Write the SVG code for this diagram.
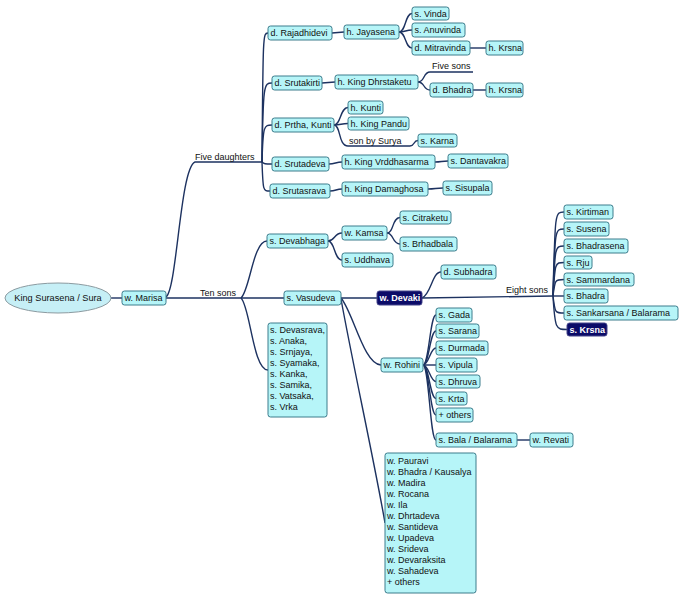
<svg xmlns="http://www.w3.org/2000/svg" width="684" height="600" viewBox="0 0 684 600">
<style>
.n rect{fill:#b6f5f8;stroke:#3c7c8c;stroke-width:1}
.n text,.lbl{font-family:"Liberation Sans",Arial,sans-serif;font-size:9px;fill:#111}
.d rect{fill:#0b0b68;stroke:#45458a;stroke-width:1}
.d text{font-family:"Liberation Sans",Arial,sans-serif;font-size:9px;font-weight:bold;fill:#fff}
.c path{fill:none;stroke:#1d3260;stroke-width:1.4}
.root ellipse{fill:#c6eff6;stroke:#8a9aa0;stroke-width:1}
.root text{font-family:"Liberation Sans",Arial,sans-serif;font-size:9.2px;fill:#111;text-anchor:middle}
</style>
<rect width="684" height="600" fill="#fff"/>
<g id="connectors" class="c">
<path d="M111,298 H122"/>
<path d="M166,297 C177,290 180,168 195,162 H262"/>
<path d="M166,298 H241"/>
<path d="M262,162 C263,33 263,33 268,33"/>
<path d="M262,162 C263,83 264,83 272,83"/>
<path d="M262,162 C263,125 264,125 272,125"/>
<path d="M262,162 C264,164 265,164 272,164"/>
<path d="M262,162 C263,191 263,191 270,191"/>
<path d="M332,33 L344,32"/>
<path d="M399,32 C406,32 405,13.5 412,13.5"/>
<path d="M399,32 C405,32 406,30 412,30"/>
<path d="M399,32 C406,32 405,48 412,48"/>
<path d="M470,48 H486"/>
<path d="M322,83 L335,82"/>
<path d="M418,82 C425,82 423,72 430,72 H473"/>
<path d="M418,82 C425,82 423,90 430,90"/>
<path d="M473,90 H486"/>
<path d="M334,125 C341,125 340,107.5 348,107.5"/>
<path d="M334,125 C341,125 341,123.5 348,123.5"/>
<path d="M334,125 C341,125 338,146 348,146 H410 C415,146 413,140.5 418,140.5"/>
<path d="M329,164 C335,164 336,162 342,162"/>
<path d="M435,162 C441,162 442,161 448,161"/>
<path d="M330,191 C336,191 336,189 342,189"/>
<path d="M428,189 C435,189 436,188 443,188"/>
<path d="M241,298 C250,290 253,241 267,241"/>
<path d="M241,298 H284"/>
<path d="M241,298 C250,306 253,370 268,370"/>
<path d="M328,241 C335,241 334,233 342,233"/>
<path d="M328,241 C335,241 334,260 342,260"/>
<path d="M387,233 C394,233 392,217.5 400,217.5"/>
<path d="M387,233 C394,233 392,244 400,244"/>
<path d="M341,298 H377"/>
<path d="M341,298 C353,312 364,365 381,365"/>
<path d="M341,299 C352,360 376,470 385,523"/>
<path d="M422,298 C431,295 432,272 441,272"/>
<path d="M422,298 L553,296"/>
<path d="M553,296 C555,212 555,212 564,212"/>
<path d="M553,296 C555,229 555,229 564,229"/>
<path d="M553,296 C555,246 555,246 564,246"/>
<path d="M553,296 C555,262.5 555,262.5 564,262.5"/>
<path d="M553,296 C555,279.5 555,279.5 564,279.5"/>
<path d="M553,296 C556,296 558,296 564,296"/>
<path d="M553,296 C555,313 555,313 564,313"/>
<path d="M553,296 C555,329.5 556,329.5 567,329.5"/>
<path d="M423,365 C429,365 430,315 436,315"/>
<path d="M423,365 C429,365 430,331 436,331"/>
<path d="M423,365 C429,365 430,348 436,348"/>
<path d="M423,365 H436"/>
<path d="M423,365 C429,365 430,381.5 436,381.5"/>
<path d="M423,365 C429,365 430,398.5 436,398.5"/>
<path d="M423,365 C429,365 430,415 436,415"/>
<path d="M423,365 C429,365 430,440 436,440"/>
<path d="M517,440 H530"/>
</g>
<g id="connector-labels">
<text class="lbl" x="195" y="159.5">Five daughters</text>
<text class="lbl" x="200" y="295.5">Ten sons</text>
<text class="lbl" x="432" y="69">Five sons</text>
<text class="lbl" x="349" y="144">son by Surya</text>
<text class="lbl" x="506" y="292.5">Eight sons</text>
</g>
<g id="root" class="root"><ellipse cx="58" cy="298" rx="53" ry="15"/><text x="58" y="301.3">King Surasena / Sura</text></g>
<g id="marisa" class="n"><rect x="122" y="291" width="44" height="14" rx="2.5"/><text x="124.5" y="301.3">w. Marisa</text></g>
<g id="rajadhidevi" class="n"><rect x="268" y="26" width="64" height="14" rx="2.5"/><text x="270.5" y="36.3">d. Rajadhidevi</text></g>
<g id="jayasena" class="n"><rect x="344" y="25" width="55" height="14" rx="2.5"/><text x="346.5" y="35.3">h. Jayasena</text></g>
<g id="vinda" class="n"><rect x="412" y="7" width="37" height="13" rx="2.5"/><text x="414.5" y="16.8">s. Vinda</text></g>
<g id="anuvinda" class="n"><rect x="412" y="23" width="53" height="14" rx="2.5"/><text x="414.5" y="33.3">s. Anuvinda</text></g>
<g id="mitravinda" class="n"><rect x="412" y="41" width="58" height="14" rx="2.5"/><text x="414.5" y="51.3">d. Mitravinda</text></g>
<g id="krsna1" class="n"><rect x="486" y="41" width="37" height="14" rx="2.5"/><text x="488.5" y="51.3">h. Krsna</text></g>
<g id="srutakirti" class="n"><rect x="272" y="76" width="50" height="14" rx="2.5"/><text x="274.5" y="86.3">d. Srutakirti</text></g>
<g id="dhrstaketu" class="n"><rect x="335" y="75" width="83" height="14" rx="2.5"/><text x="337.5" y="85.3">h. King Dhrstaketu</text></g>
<g id="bhadra-d" class="n"><rect x="430" y="83" width="43" height="14" rx="2.5"/><text x="432.5" y="93.3">d. Bhadra</text></g>
<g id="krsna2" class="n"><rect x="486" y="83" width="37" height="14" rx="2.5"/><text x="488.5" y="93.3">h. Krsna</text></g>
<g id="prtha" class="n"><rect x="272" y="118" width="62" height="14" rx="2.5"/><text x="274.5" y="128.3">d. Prtha, Kunti</text></g>
<g id="kunti" class="n"><rect x="348" y="101" width="35" height="13" rx="2.5"/><text x="350.5" y="110.8">h. Kunti</text></g>
<g id="pandu" class="n"><rect x="348" y="117" width="61" height="13" rx="2.5"/><text x="350.5" y="126.8">h. King Pandu</text></g>
<g id="karna" class="n"><rect x="418" y="134" width="39" height="13" rx="2.5"/><text x="420.5" y="143.8">s. Karna</text></g>
<g id="srutadeva" class="n"><rect x="272" y="157" width="57" height="14" rx="2.5"/><text x="274.5" y="167.3">d. Srutadeva</text></g>
<g id="vrddhasarma" class="n"><rect x="342" y="155" width="93" height="14" rx="2.5"/><text x="344.5" y="165.3">h. King Vrddhasarma</text></g>
<g id="dantavakra" class="n"><rect x="448" y="154" width="60" height="14" rx="2.5"/><text x="450.5" y="164.3">s. Dantavakra</text></g>
<g id="srutasrava" class="n"><rect x="270" y="184" width="60" height="14" rx="2.5"/><text x="272.5" y="194.3">d. Srutasrava</text></g>
<g id="damaghosa" class="n"><rect x="342" y="182" width="86" height="14" rx="2.5"/><text x="344.5" y="192.3">h. King Damaghosa</text></g>
<g id="sisupala" class="n"><rect x="443" y="181" width="49" height="14" rx="2.5"/><text x="445.5" y="191.3">s. Sisupala</text></g>
<g id="devabhaga" class="n"><rect x="267" y="234" width="61" height="14" rx="2.5"/><text x="269.5" y="244.3">s. Devabhaga</text></g>
<g id="kamsa" class="n"><rect x="342" y="226" width="45" height="14" rx="2.5"/><text x="344.5" y="236.3">w. Kamsa</text></g>
<g id="citraketu" class="n"><rect x="400" y="211" width="51" height="13" rx="2.5"/><text x="402.5" y="220.8">s. Citraketu</text></g>
<g id="brhadbala" class="n"><rect x="400" y="237" width="57" height="14" rx="2.5"/><text x="402.5" y="247.3">s. Brhadbala</text></g>
<g id="uddhava" class="n"><rect x="342" y="253" width="51" height="14" rx="2.5"/><text x="344.5" y="263.3">s. Uddhava</text></g>
<g id="vasudeva" class="n"><rect x="284" y="291" width="57" height="14" rx="2.5"/><text x="286.5" y="301.3">s. Vasudeva</text></g>
<g id="devaki" class="d"><rect x="377" y="291" width="45" height="14" rx="2.5"/><text x="379.5" y="301.3">w. Devaki</text></g>
<g id="subhadra" class="n"><rect x="441" y="265" width="55" height="14" rx="2.5"/><text x="443.5" y="275.3">d. Subhadra</text></g>
<g id="kirtiman" class="n"><rect x="564" y="205" width="49" height="14" rx="2.5"/><text x="566.5" y="215.3">s. Kirtiman</text></g>
<g id="susena" class="n"><rect x="564" y="222" width="45" height="14" rx="2.5"/><text x="566.5" y="232.3">s. Susena</text></g>
<g id="bhadrasena" class="n"><rect x="564" y="239" width="64" height="14" rx="2.5"/><text x="566.5" y="249.3">s. Bhadrasena</text></g>
<g id="rju" class="n"><rect x="564" y="256" width="28" height="13" rx="2.5"/><text x="566.5" y="265.8">s. Rju</text></g>
<g id="sammardana" class="n"><rect x="564" y="273" width="70" height="13" rx="2.5"/><text x="566.5" y="282.8">s. Sammardana</text></g>
<g id="bhadra-s" class="n"><rect x="564" y="289" width="44" height="14" rx="2.5"/><text x="566.5" y="299.3">s. Bhadra</text></g>
<g id="sankarsana" class="n"><rect x="564" y="306" width="114" height="14" rx="2.5"/><text x="566.5" y="316.3">s. Sankarsana / Balarama</text></g>
<g id="krsna-s" class="d"><rect x="567" y="323" width="40" height="13" rx="2.5"/><text x="569.5" y="332.8">s. Krsna</text></g>
<g id="ten-sons-list" class="n"><rect x="268" y="323" width="59" height="94" rx="2.5"/>
<text x="270" y="333.3">s. Devasrava,</text><text x="270" y="344.3">s. Anaka,</text><text x="270" y="355.3">s. Srnjaya,</text><text x="270" y="366.3">s. Syamaka,</text><text x="270" y="377.3">s. Kanka,</text><text x="270" y="388.3">s. Samika,</text><text x="270" y="399.3">s. Vatsaka,</text><text x="270" y="410.3">s. Vrka</text></g>
<g id="rohini" class="n"><rect x="381" y="358" width="42" height="14" rx="2.5"/><text x="383.5" y="368.3">w. Rohini</text></g>
<g id="gada" class="n"><rect x="436" y="308" width="36" height="14" rx="2.5"/><text x="438.5" y="318.3">s. Gada</text></g>
<g id="sarana" class="n"><rect x="436" y="324" width="43" height="14" rx="2.5"/><text x="438.5" y="334.3">s. Sarana</text></g>
<g id="durmada" class="n"><rect x="436" y="341" width="52" height="14" rx="2.5"/><text x="438.5" y="351.3">s. Durmada</text></g>
<g id="vipula" class="n"><rect x="436" y="358" width="41" height="14" rx="2.5"/><text x="438.5" y="368.3">s. Vipula</text></g>
<g id="dhruva" class="n"><rect x="436" y="375" width="44" height="13" rx="2.5"/><text x="438.5" y="384.8">s. Dhruva</text></g>
<g id="krta" class="n"><rect x="436" y="392" width="31" height="13" rx="2.5"/><text x="438.5" y="401.8">s. Krta</text></g>
<g id="others-r" class="n"><rect x="436" y="408" width="37" height="14" rx="2.5"/><text x="438.5" y="418.3">+ others</text></g>
<g id="balarama" class="n"><rect x="436" y="433" width="81" height="14" rx="2.5"/><text x="438.5" y="443.3">s. Bala / Balarama</text></g>
<g id="revati" class="n"><rect x="530" y="433" width="43" height="14" rx="2.5"/><text x="532.5" y="443.3">w. Revati</text></g>
<g id="wives-list" class="n"><rect x="385" y="453" width="91" height="140" rx="2.5"/>
<text x="387" y="464.3">w. Pauravi</text><text x="387" y="475.3">w. Bhadra / Kausalya</text><text x="387" y="486.3">w. Madira</text><text x="387" y="497.3">w. Rocana</text><text x="387" y="508.3">w. Ila</text><text x="387" y="519.3">w. Dhrtadeva</text><text x="387" y="530.3">w. Santideva</text><text x="387" y="541.3">w. Upadeva</text><text x="387" y="552.3">w. Srideva</text><text x="387" y="563.3">w. Devaraksita</text><text x="387" y="574.3">w. Sahadeva</text><text x="387" y="585.3">+ others</text></g>
</svg>
